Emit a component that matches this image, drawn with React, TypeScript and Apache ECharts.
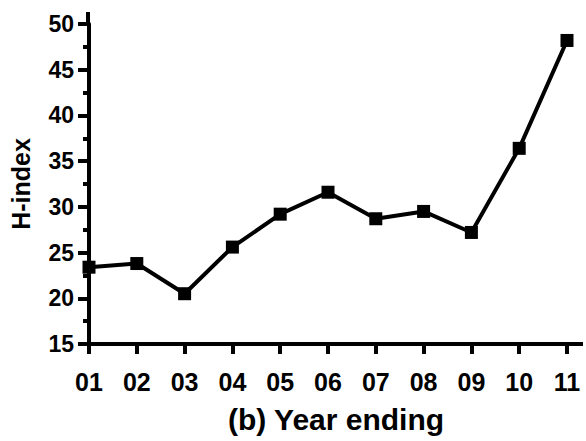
import React, { useEffect, useRef } from "react";
import * as echarts from "echarts";

const years = ["01", "02", "03", "04", "05", "06", "07", "08", "09", "10", "11"];
const hIndex = [23.4, 23.8, 20.5, 25.6, 29.2, 31.6, 28.7, 29.5, 27.2, 36.4, 48.2];
const yMin = 15;
const yMax = 50;
const yStep = 5;

const FONT = "'Liberation Sans', Arial, sans-serif";

export default function App() {
  const ref = useRef<HTMLDivElement>(null);
  useEffect(() => {
    if (!ref.current) return;
    const chart = echarts.init(ref.current, undefined, { renderer: "svg" });
    chart.setOption({
      animation: false,
      backgroundColor: "#ffffff",
      grid: { left: 88, right: 19, top: 24, bottom: 97, containLabel: false },
      xAxis: {
        type: "category",
        data: years,
        boundaryGap: false,
        name: "(b) Year ending",
        nameLocation: "middle",
        nameGap: 60,
        nameTextStyle: {
          fontFamily: FONT,
          fontWeight: "bold",
          fontSize: 30,
          color: "#000",
          padding: [0, 0, 0, 16],
        },
        axisLine: { show: true, lineStyle: { color: "#000", width: 4 } },
        axisTick: { show: true, alignWithLabel: true, length: 10, lineStyle: { color: "#000", width: 4 } },
        axisLabel: {
          fontFamily: FONT,
          fontWeight: "bold",
          fontSize: 25,
          color: "#000",
          margin: 25,
        },
        splitLine: { show: false },
      },
      yAxis: {
        type: "value",
        min: yMin,
        max: yMax,
        interval: yStep,
        name: "H-index",
        nameLocation: "middle",
        nameGap: 56,
        nameRotate: 90,
        nameTextStyle: {
          fontFamily: FONT,
          fontWeight: "bold",
          fontSize: 25,
          color: "#000",
        },
        axisLine: { show: true, lineStyle: { color: "#000", width: 4 } },
        axisTick: { show: true, length: 11, lineStyle: { color: "#000", width: 4 } },
        minorTick: { show: true, splitNumber: 2, length: 6, lineStyle: { color: "#000", width: 4 } },
        axisLabel: {
          fontFamily: FONT,
          fontWeight: "bold",
          fontSize: 23,
          color: "#000",
          margin: 15,
        },
        splitLine: { show: false },
      },
      graphic: [
        {
          type: "line",
          shape: { x1: 566, y1: 344, x2: 583, y2: 344 },
          style: { stroke: "#000", lineWidth: 4 },
        },
        {
          type: "line",
          shape: { x1: 88, y1: 24, x2: 88, y2: 12 },
          style: { stroke: "#000", lineWidth: 4 },
        },
      ],
      series: [
        {
          type: "line",
          data: hIndex,
          symbol: "rect",
          symbolSize: 13,
          lineStyle: { color: "#000", width: 4 },
          itemStyle: { color: "#000" },
        },
      ],
    });
    return () => chart.dispose();
  }, []);
  return (
    <div
      ref={ref}
      style={{ position: "absolute", left: 0, top: 0, width: 586, height: 441 }}
    />
  );
}
